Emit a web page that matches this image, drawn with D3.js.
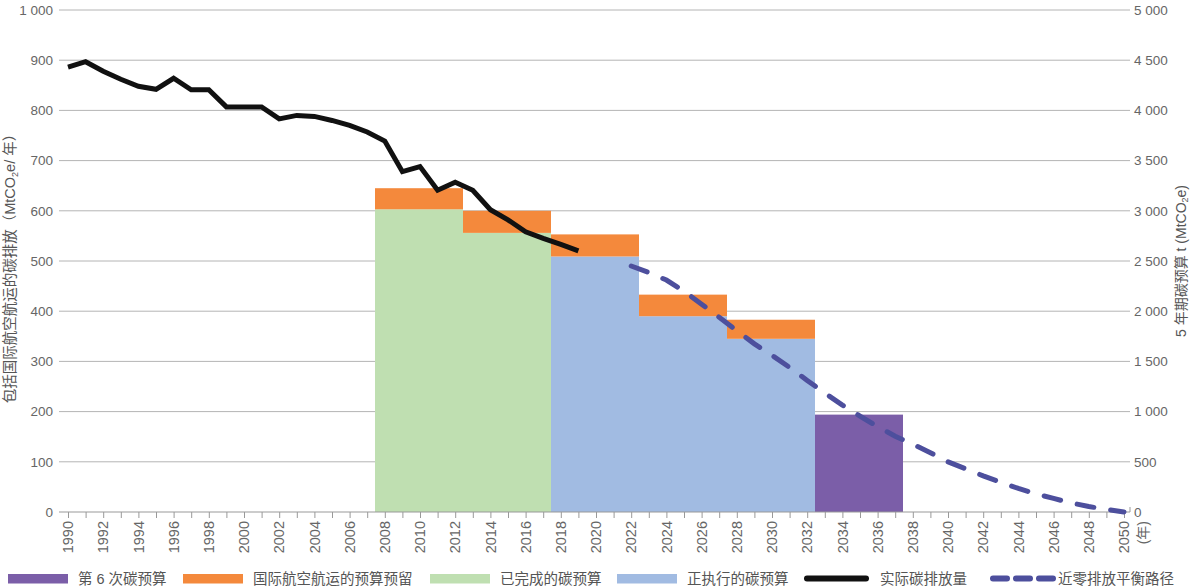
<!DOCTYPE html>
<html><head><meta charset="utf-8">
<script src="https://cdn.jsdelivr.net/npm/d3@7/dist/d3.min.js"></script>
<style>
html,body{margin:0;padding:0;background:#fff;}
svg{display:block;font-family:"Liberation Sans","Noto Sans CJK SC",sans-serif;}
</style></head>
<body><svg id="c" width="1192" height="586"></svg>
<script>
// ---- data ----
const budgetStartYears = [2008, 2013, 2018, 2023, 2028, 2033];
const budgetAnnual = [603, 556, 509, 390, 345, 194];
const iasHeadroom = [42, 44, 44, 43, 38, 0];
const budgetKinds = ["done", "done", "current", "current", "current", "sixth"];

const actualYears = [1990,1991,1992,1993,1994,1995,1996,1997,1998,1999,2000,2001,2002,2003,2004,2005,2006,2007,2008,2009,2010,2011,2012,2013,2014,2015,2016,2017,2018,2019];
const actualValues = [886,897,878,862,848,842,864,841,841,807,807,807,783,790,788,780,770,757,739,678,688,641,657,641,602,582,558,545,533,520];

const pathYears = [2022,2023,2024,2025,2026,2027,2028,2029,2030,2031,2032,2033,2034,2035,2036,2037,2038,2039,2040,2041,2042,2043,2044,2045,2046,2047,2048,2049,2050];
const pathValues = [490,477,462,440,414,388,361,335,312,288,262,237,213,191,170,151,135,118,100,86,72,59,47,36,27,18,11,5,0];

const leftTicks = [0,100,200,300,400,500,600,700,800,900,1000];
const rightTicks = [0,500,1000,1500,2000,2500,3000,3500,4000,4500,5000];
const yearLabels = d3.range(1990, 2051, 2);
const yearTicks = d3.range(1990, 2051, 1);

const legendItems = [
  {label:"第 6 次碳预算", kind:"sixth", x:8},
  {label:"国际航空航运的预算预留", kind:"ias", x:183},
  {label:"已完成的碳预算", kind:"done", x:430},
  {label:"正执行的碳预算", kind:"current", x:617},
  {label:"实际碳排放量", kind:"actual", x:804},
  {label:"近零排放平衡路径", kind:"path", x:990}
];

const colors = {sixth:"#7b5ea8", ias:"#f4893c", done:"#bfdfb1", current:"#a1bbe2", actual:"#111111", path:"#4d4f9d"};

// ---- chart ----
const svg = d3.select("#c");
const x = d3.scaleLinear().domain([1990, 2050]).range([68, 1124]);
const y = d3.scaleLinear().domain([0, 1000]).range([512, 10]);
const y2 = d3.scaleLinear().domain([0, 5000]).range([512, 10]);
const gridL = 59, gridR = 1130;
const fmt = v => v >= 1000 ? d3.format(",")(v).replace(/,/g, " ") : String(v);

// gridlines
svg.append("g").selectAll("line").data(leftTicks.filter(d => d > 0)).join("line")
  .attr("x1", gridL).attr("x2", gridR)
  .attr("y1", d => y(d)).attr("y2", d => y(d))
  .attr("stroke", "#b4b4b4").attr("stroke-width", 1);

// left tick labels
svg.append("g").selectAll("text").data(leftTicks).join("text")
  .attr("x", 53).attr("y", d => y(d)).attr("dy", "0.36em")
  .attr("text-anchor", "end").attr("font-size", 13.5).attr("fill", "#666")
  .text(fmt);

// right tick labels
svg.append("g").selectAll("text").data(rightTicks).join("text")
  .attr("x", 1134).attr("y", d => y2(d)).attr("dy", "0.36em")
  .attr("text-anchor", "start").attr("font-size", 13.5).attr("fill", "#666")
  .text(fmt);

// bars
const bars = budgetStartYears.map((s, i) => ({s, base: budgetAnnual[i], top: budgetAnnual[i] + iasHeadroom[i], kind: budgetKinds[i]}));
const gb = svg.append("g");
gb.selectAll("rect.base").data(bars).join("rect").attr("class", "base")
  .attr("x", d => x(d.s - 0.5) - 1).attr("width", d => x(d.s + 4.5) - x(d.s - 0.5))
  .attr("y", d => y(d.base)).attr("height", d => y(0) - y(d.base))
  .attr("fill", d => colors[d.kind]);
gb.selectAll("rect.ias").data(bars.filter(d => d.top > d.base)).join("rect").attr("class", "ias")
  .attr("x", d => x(d.s - 0.5) - 1).attr("width", d => x(d.s + 4.5) - x(d.s - 0.5))
  .attr("y", d => y(d.top)).attr("height", d => y(d.base) - y(d.top))
  .attr("fill", colors.ias);

// x axis line and ticks
svg.append("line").attr("x1", gridL).attr("x2", gridR).attr("y1", y(0)).attr("y2", y(0))
  .attr("stroke", "#999").attr("stroke-width", 1);
svg.append("g").selectAll("line").data(yearTicks).join("line")
  .attr("x1", d => x(d) + 0.5).attr("x2", d => x(d) + 0.5)
  .attr("y1", y(0)).attr("y2", y(0) + 6)
  .attr("stroke", "#999").attr("stroke-width", 1);
svg.append("line").attr("x1", gridR).attr("x2", gridR).attr("y1", y(0) - 5).attr("y2", y(0))
  .attr("stroke", "#999");

// year labels
svg.append("g").selectAll("text").data(yearLabels).join("text")
  .attr("transform", d => `translate(${x(d)},521) rotate(-90)`)
  .attr("dy", "0.36em").attr("text-anchor", "end")
  .attr("font-size", 14.5).attr("fill", "#666")
  .text(d => d);
svg.append("text")
  .attr("transform", `translate(${x(2051.1)},521) rotate(-90)`)
  .attr("dy", "0.36em").attr("text-anchor", "end")
  .attr("font-size", 14).attr("fill", "#666")
  .text("(年)");

// lines
const line = d3.line().x(d => x(d[0])).y(d => y(d[1]));
svg.append("path").datum(actualYears.map((yr, i) => [yr, actualValues[i]]))
  .attr("d", line).attr("fill", "none").attr("stroke", colors.actual)
  .attr("stroke-width", 5).attr("stroke-linejoin", "miter");
svg.append("path").datum(pathYears.map((yr, i) => [yr, pathValues[i]]))
  .attr("d", line).attr("fill", "none").attr("stroke", colors.path)
  .attr("stroke-width", 5).attr("stroke-linecap", "round")
  .attr("stroke-dasharray", "17,17");

// axis titles
const lt = svg.append("text")
  .attr("transform", "translate(15,265) rotate(-90)")
  .attr("text-anchor", "middle").attr("font-size", 14.5).attr("fill", "#555");
lt.append("tspan").text("包括国际航空航运的碳排放（MtCO");
lt.append("tspan").attr("font-size", 9).attr("dy", 3).text("2");
lt.append("tspan").attr("dy", -3).text("e/ 年）");

const rt = svg.append("text")
  .attr("transform", "translate(1186,261) rotate(-90)")
  .attr("text-anchor", "middle").attr("font-size", 14).attr("fill", "#555");
rt.append("tspan").text("5 年期碳预算 t (MtCO");
rt.append("tspan").attr("font-size", 9).attr("dy", 2).text("2");
rt.append("tspan").attr("dy", -2).text("e)");

// legend
const lg = svg.append("g");
legendItems.forEach(it => {
  if (it.kind === "actual") {
    lg.append("line").attr("x1", it.x + 3).attr("x2", it.x + 62).attr("y1", 578.5).attr("y2", 578.5)
      .attr("stroke", colors.actual).attr("stroke-width", 6).attr("stroke-linecap", "round");
  } else if (it.kind === "path") {
    lg.append("line").attr("x1", it.x + 3).attr("x2", it.x + 64).attr("y1", 578.5).attr("y2", 578.5)
      .attr("stroke", colors.path).attr("stroke-width", 6).attr("stroke-linecap", "round")
      .attr("stroke-dasharray", "14,9");
  } else {
    lg.append("rect").attr("x", it.x).attr("y", 574).attr("width", 60).attr("height", 9.5)
      .attr("fill", colors[it.kind]);
  }
  const tx = it.kind === "path" ? it.x + 68 : it.x + (it.kind === "actual" ? 76 : 70);
  lg.append("text").attr("x", tx).attr("y", 584).attr("font-size", 14.5).attr("fill", "#555")
    .text(it.label);
});
</script></body></html>
